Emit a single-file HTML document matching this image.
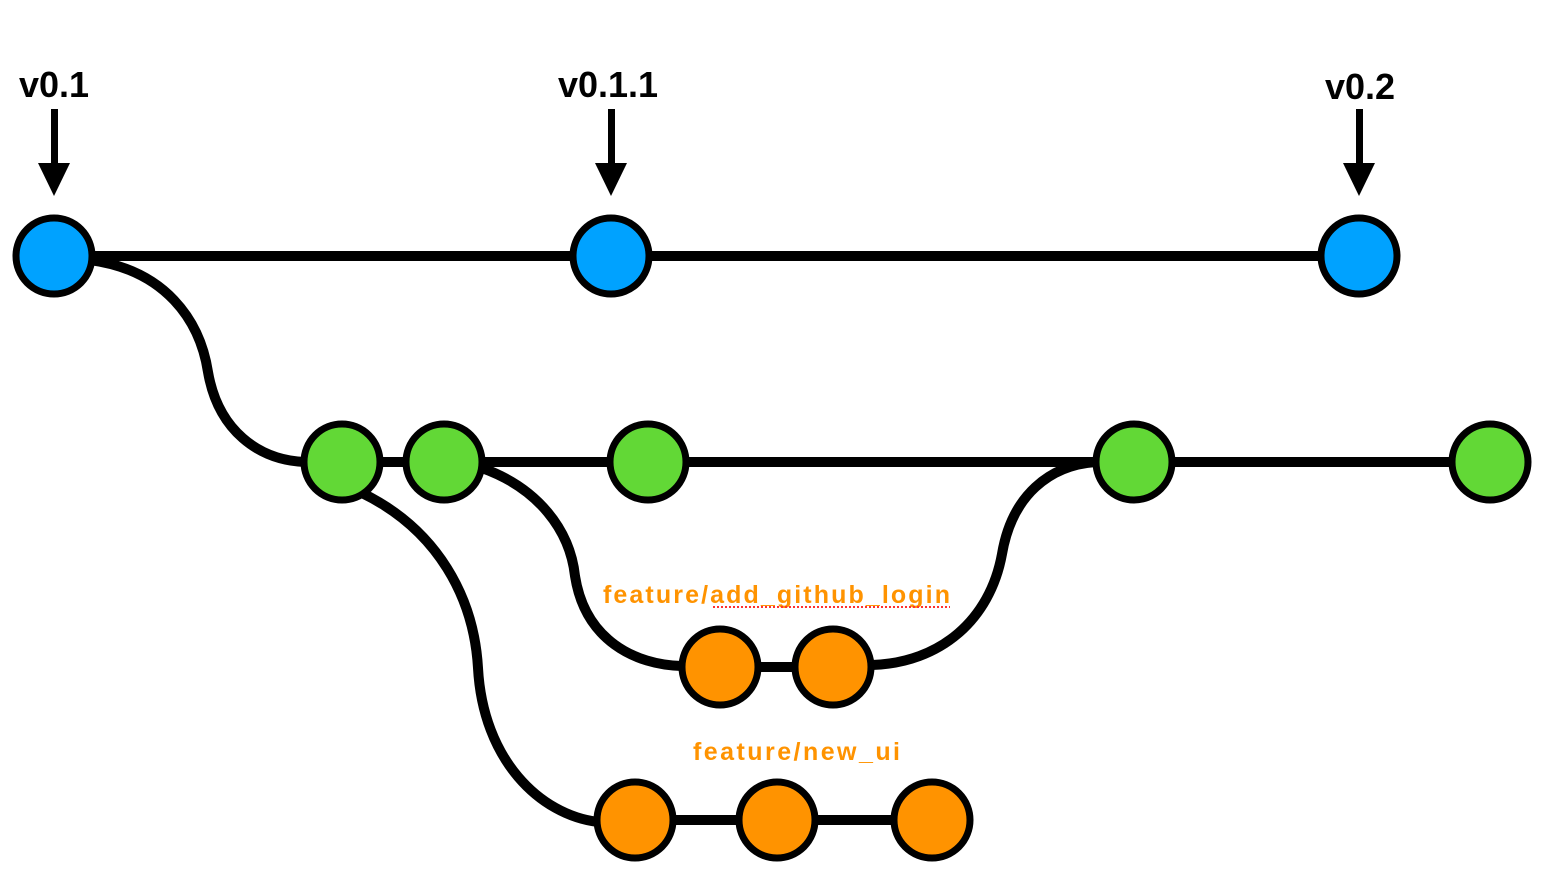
<!DOCTYPE html>
<html><head><style>
html,body{margin:0;padding:0;background:#fff;}
svg{display:block;}
</style></head><body>
<svg width="1551" height="881" viewBox="0 0 1551 881" xmlns="http://www.w3.org/2000/svg">
<g fill="none" stroke="#000" stroke-width="10">
<line x1="54" y1="256" x2="1359" y2="256"/>
<line x1="342" y1="462" x2="1490" y2="462"/>
<line x1="720" y1="667" x2="833" y2="667"/>
<line x1="635" y1="820" x2="932" y2="820"/>
<path d="M90 260 C165 270 200 320 208 372 C218 430 258 460 305 462"/>
<path d="M362 493 C438 530 474 598 478 668 C483 760 540 815 598 822"/>
<path d="M482 468 C538 488 570 530 575 576 C585 640 635 665 682 666"/>
<path d="M872 665 C940 663 990 620 1002 554 C1012 495 1050 465 1096 462"/>
</g>
<g stroke="#000" stroke-width="7">
<circle cx="54" cy="256" r="38" fill="#00A2FF"/>
<circle cx="611" cy="256" r="38" fill="#00A2FF"/>
<circle cx="1359" cy="256" r="38" fill="#00A2FF"/>
<circle cx="342" cy="462" r="38" fill="#62D836"/>
<circle cx="444" cy="462" r="38" fill="#62D836"/>
<circle cx="648" cy="462" r="38" fill="#62D836"/>
<circle cx="1134" cy="462" r="38" fill="#62D836"/>
<circle cx="1490" cy="462" r="38" fill="#62D836"/>
<circle cx="720" cy="667" r="38" fill="#FF9300"/>
<circle cx="833" cy="667" r="38" fill="#FF9300"/>
<circle cx="635" cy="820" r="38" fill="#FF9300"/>
<circle cx="777" cy="820" r="38" fill="#FF9300"/>
<circle cx="932" cy="820" r="38" fill="#FF9300"/>
</g>
<g fill="#000">
<rect x="51" y="109" width="7" height="58"/><polygon points="38,163 70,163 54,196"/>
<rect x="608" y="109" width="7" height="58"/><polygon points="595,163 627,163 611,196"/>
<rect x="1356" y="109" width="7" height="58"/><polygon points="1343,163 1375,163 1359,196"/>
</g>
<g font-family="Liberation Sans, sans-serif" font-weight="bold" font-size="36" text-anchor="middle" fill="#000">
<text x="54" y="97">v0.1</text>
<text x="608" y="97">v0.1.1</text>
<text x="1360" y="99">v0.2</text>
</g>
<g font-family="Liberation Sans, sans-serif" font-weight="bold" font-size="25" fill="#FF9300">
<text x="603" y="603" textLength="347">feature/add_github_login</text>
<text x="693" y="760" textLength="207">feature/new_ui</text>
</g>
<line x1="713" y1="607" x2="950" y2="607" stroke="#ff3030" stroke-width="2" stroke-dasharray="2,2"/>
</svg>
</body></html>
